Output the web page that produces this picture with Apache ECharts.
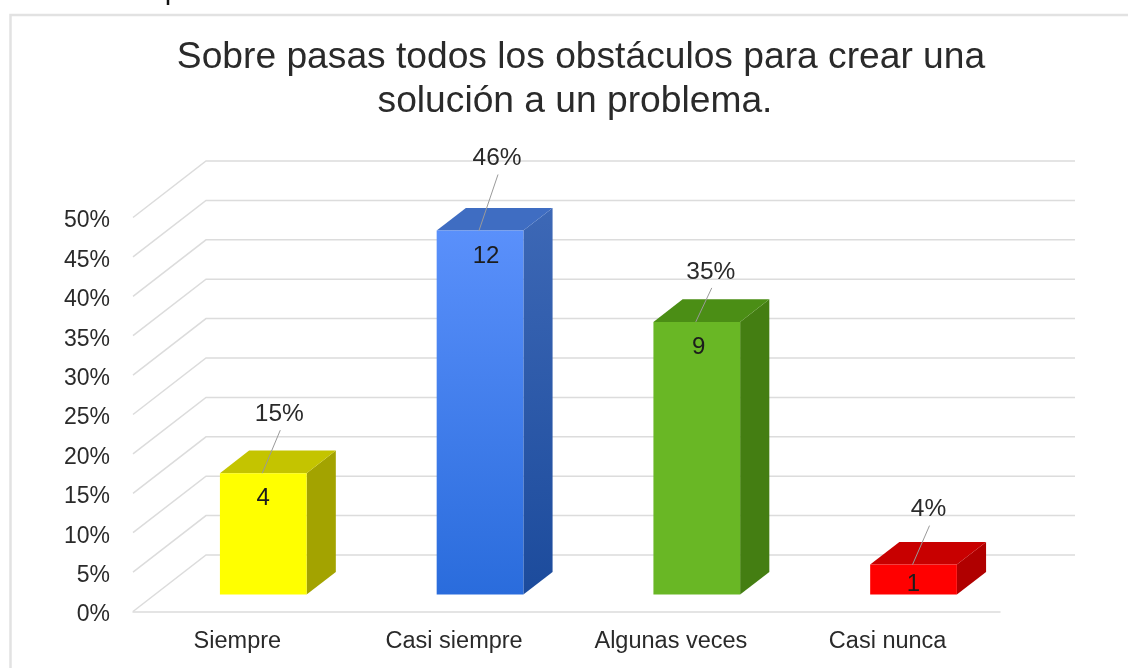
<!DOCTYPE html>
<html>
<head>
<meta charset="utf-8">
<title>Sobre pasas todos los obstáculos</title>
<style>
  html, body { margin: 0; padding: 0; background: #fff; }
  #chart { width: 1128px; height: 668px; }
</style>
<script src="https://cdn.jsdelivr.net/npm/echarts@6/dist/echarts.min.js"></script>
</head>
<body>
<div id="chart"></div>
<script>
const titleLines = ['Sobre pasas todos los obstáculos para crear una', 'solución a un problema.']
const categories = ['Siempre', 'Casi siempre', 'Algunas veces', 'Casi nunca']
const counts = [4, 12, 9, 1]
const percents = [15.4, 46.2, 34.6, 3.8]
const percentTicks = [0, 5, 10, 15, 20, 25, 30, 35, 40, 45, 50]

// colores de cada barra: frente (arriba, abajo), tapa, lateral (arriba, abajo)
const barColors = [
  { front: ['#ffff00', '#ffff00'], top: '#c4c400', side: ['#a3a300', '#a3a300'] },
  { front: ['#5a90fb', '#2a6cdc'], top: '#3f6dc2', side: ['#3d68b6', '#1c4b9c'] },
  { front: ['#69b725', '#69b725'], top: '#4b8e15', side: ['#447e12', '#447e12'] },
  { front: ['#ff0000', '#ff0000'], top: '#c80000', side: ['#b00000', '#b00000'] }
]

// perspectiva del piso
const depthX = 73
const depthY = 56.5
const barStart = 0.3 // donde empieza la barra dentro del piso
const barDepth = 0.4
// alto de la etiqueta % sobre la barra y corrimientos a mano, como en el original
const pctLift = [61, 74, 52, 57]
const pctShift = [16, 17, 14, 15]
const countDrop = [25, 26, 25, 20]
const countShift = [0, 6, 2, 0]

const fontName = '"Liberation Sans", Arial, sans-serif'
const textColor = '#2a2a2a'
const gridColor = '#dcdcdc'

function renderWall (params, api) {
  const level = api.value(1)
  const y = api.coord([0, level])[1]
  const left = params.coordSys.x
  const right = left + params.coordSys.width
  return {
    type: 'polyline',
    silent: true,
    shape: { points: [[left, y], [left + depthX, y - depthY], [right + depthX + 2, y - depthY]] },
    style: { fill: null, stroke: gridColor, lineWidth: 1.5 }
  }
}

function gradient (pair) {
  return new echarts.graphic.LinearGradient(0, 0, 0, 1, [
    { offset: 0, color: pair[0] },
    { offset: 1, color: pair[1] }
  ])
}

function renderBar (params, api) {
  const i = api.value(0)
  const top = api.coord([i, api.value(1)])
  const base = api.coord([i, 0])
  const band = api.size([1, 0])[0]
  const w = band * 0.4
  const x0 = top[0] - w / 2 + depthX * barStart
  const x1 = x0 + w
  const yTop = top[1] - depthY * barStart
  const yBase = base[1] - depthY * barStart
  const dx = depthX * barDepth
  const dy = depthY * barDepth
  const c = barColors[i]
  const cx = (x0 + x1) / 2
  const labelX = cx + pctShift[i]
  const labelY = yTop - pctLift[i]
  return {
    type: 'group',
    children: [
      {
        type: 'polygon',
        shape: { points: [[x1, yTop], [x1 + dx, yTop - dy], [x1 + dx, yBase - dy], [x1, yBase]] },
        style: { fill: gradient(c.side) }
      },
      {
        type: 'polygon',
        shape: { points: [[x0, yTop], [x0 + dx, yTop - dy], [x1 + dx, yTop - dy], [x1, yTop]] },
        style: { fill: c.top }
      },
      {
        type: 'rect',
        shape: { x: x0, y: yTop, width: w, height: yBase - yTop },
        style: { fill: gradient(c.front) }
      },
      {
        type: 'line',
        shape: { x1: labelX + 1, y1: labelY + 18, x2: cx - 1, y2: yTop },
        style: { stroke: '#9a9a9a', lineWidth: 1 }
      },
      {
        type: 'text',
        x: labelX,
        y: labelY + 2,
        style: {
          text: Math.round(api.value(1)) + '%',
          fill: textColor,
          font: '24.5px ' + fontName,
          align: 'center',
          verticalAlign: 'middle'
        }
      },
      {
        type: 'text',
        x: cx + countShift[i],
        y: yTop + countDrop[i],
        style: {
          text: String(counts[i]),
          fill: '#1c1c1c',
          font: '24px ' + fontName,
          align: 'center',
          verticalAlign: 'middle'
        }
      }
    ]
  }
}

const titleStyle = {
  fontFamily: fontName,
  fontWeight: 'normal',
  fontSize: 37.2,
  color: textColor
}

const myChart = echarts.init(document.getElementById('chart'))
myChart.setOption({
  animation: false,
  backgroundColor: '#fff',
  title: [
    { text: titleLines[0], left: 576, top: 34, textAlign: 'center', textStyle: titleStyle },
    { text: titleLines[1], left: 570, top: 78, textAlign: 'center', textStyle: titleStyle }
  ],
  grid: { left: 133, right: 128, top: 217.5, bottom: 56.5 },
  xAxis: {
    type: 'category',
    data: categories,
    axisLine: { lineStyle: { color: gridColor, width: 1.5 } },
    axisTick: { show: false },
    axisLabel: { margin: 18, padding: [0, 8, 0, 0], color: textColor, fontFamily: fontName, fontSize: 23.5 }
  },
  yAxis: {
    type: 'value',
    min: 0,
    max: 50,
    interval: 5,
    axisLine: { show: false },
    axisTick: { show: false },
    splitLine: { show: false },
    axisLabel: { margin: 23, verticalAlign: 'top', lineHeight: 7, formatter: '{value}%', color: textColor, fontFamily: fontName, fontSize: 23 }
  },
  graphic: [
    {
      type: 'polyline',
      silent: true,
      shape: { points: [[10.5, 668], [10.5, 15], [1128, 15]] },
      style: { fill: null, stroke: '#e2e2e2', lineWidth: 2.5 }
    },
    {
      type: 'line',
      silent: true,
      shape: { x1: 168, y1: 0, x2: 168, y2: 5 },
      style: { stroke: '#111', lineWidth: 2.5 }
    }
  ],
  series: [
    {
      type: 'custom',
      renderItem: renderWall,
      encode: { x: 0, y: 1 },
      data: percentTicks.map(v => [0, v]),
      clip: false,
      silent: true,
      z: 1
    },
    {
      type: 'custom',
      renderItem: renderBar,
      encode: { x: 0, y: 1 },
      data: percents.map((v, i) => [i, v]),
      clip: false,
      silent: true,
      z: 2
    }
  ]
})
</script>
</body>
</html>
